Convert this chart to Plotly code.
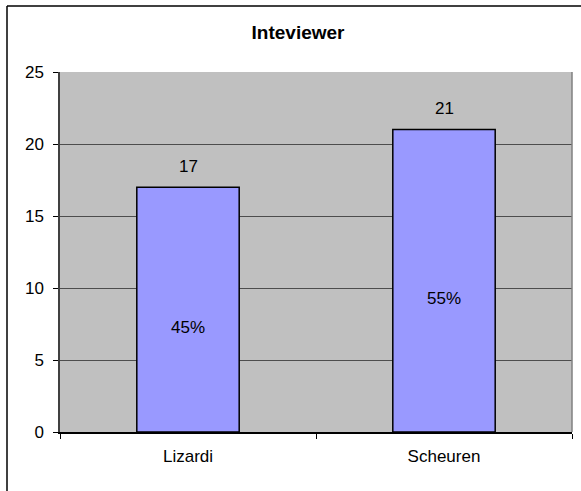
import plotly.graph_objects as go

W, H = 581, 491

categories = ["Lizardi", "Scheuren"]
counts     = [17, 21]
pct_labels = ["45%", "55%"]
y_ticks    = [0, 5, 10, 15, 20, 25]

BAR_FILL  = "#9999FF"
PLOT_BG   = "#C0C0C0"
GRID      = "#4D4D4D"
FONT      = "Liberation Sans, Arial, sans-serif"

L, R, T, B = 60, 9, 72, 59

fig = go.Figure(go.Bar(
	x=categories, y=counts,
	marker=dict(color=BAR_FILL, line=dict(color="black", width=1.5)),
	hoverinfo="skip",
))

annotations = []
for cat, v, p in zip(categories, counts, pct_labels):
	annotations.append(dict(x=cat, y=v, text=str(v), showarrow=False, yshift=21,
							font=dict(size=17, color="black", family=FONT)))
	annotations.append(dict(x=cat, y=v / 2, text=p, showarrow=False, yshift=-18,
							font=dict(size=17, color="black", family=FONT)))

# outer chart border (left + top only visible in the crop)
lx = (7 - L) / (W - L - R)
ty = 1 + (T - 6) / (H - T - B)
shapes = [
	dict(type="line", xref="paper", yref="paper", x0=lx, x1=lx, y0=-1, y1=ty,
		 line=dict(color="black", width=1.5)),
	dict(type="line", xref="paper", yref="paper", x0=lx, x1=1.2, y0=ty, y1=ty,
		 line=dict(color="black", width=1.5)),
	dict(type="line", xref="paper", yref="paper", x0=1, x1=1, y0=0, y1=1,
		 line=dict(color="#808080", width=1.5)),
]

fig.update_layout(
	width=W, height=H,
	paper_bgcolor="white",
	plot_bgcolor=PLOT_BG,
	font=dict(family=FONT, size=17, color="black"),
	margin=dict(l=L, r=R, t=T, b=B),
	showlegend=False,
	bargap=0.6,
	title=dict(text="<b>Inteviewer</b>", x=298 / W, xref="container", xanchor="center",
			   y=1 - 32 / H, yref="container", yanchor="middle",
			   font=dict(size=19, family=FONT, color="black")),
	xaxis=dict(
		showgrid=False, showline=True, linecolor="black", linewidth=1.5,
		ticks="outside", ticklen=5, tickcolor="black", tickson="boundaries",
		ticklabelstandoff=8, tickfont=dict(size=17),
	),
	yaxis=dict(
		range=[0, 25], tickvals=y_ticks, showgrid=True, gridcolor=GRID, gridwidth=1,
		showline=True, linecolor="#404040", linewidth=1.5, zeroline=False,
		ticks="outside", ticklen=5, tickcolor="black",
		ticklabelstandoff=6, tickfont=dict(size=17),
	),
	annotations=annotations,
	shapes=shapes,
)

fig.write_html("out.html", config={"displayModeBar": False},
			   post_script="document.body.style.margin='0';document.body.style.overflow='hidden';")
